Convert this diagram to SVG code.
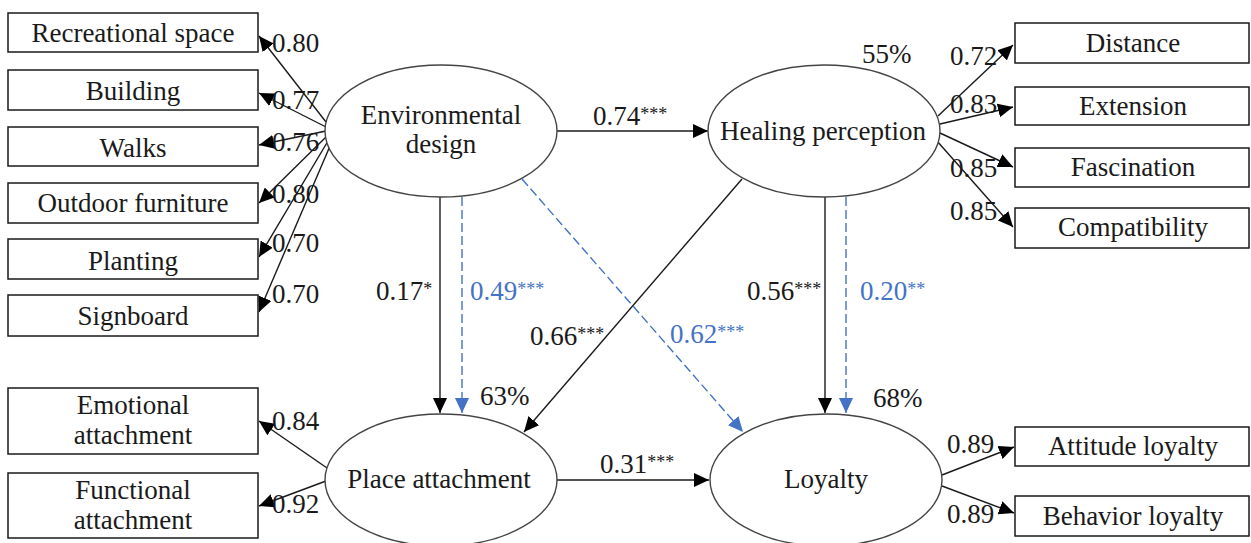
<svg xmlns="http://www.w3.org/2000/svg" width="1251" height="543" viewBox="0 0 1251 543">
<style>
text{font-family:"Liberation Serif","Times New Roman",serif;font-size:27px;fill:#1a1a1a}
.c{text-anchor:middle}
.blue{fill:#4472C4}
.sup{font-size:18px}
.box{fill:#fff;stroke:#1a1a1a;stroke-width:1.5}
ellipse{fill:#fff;stroke:#444;stroke-width:1.4}
.ln{stroke:#1a1a1a;stroke-width:1.4;fill:none;marker-end:url(#ah)}
.dl{stroke:#4472C4;stroke-width:1.4;fill:none;stroke-dasharray:9 4;marker-end:url(#ahb)}
</style>
<defs>
<marker id="ah" markerUnits="userSpaceOnUse" markerWidth="15" markerHeight="14" refX="15" refY="7" orient="auto"><path d="M0,0 L15,7 L0,14 z" fill="#000"/></marker>
<marker id="ahb" markerUnits="userSpaceOnUse" markerWidth="15" markerHeight="14" refX="15" refY="7" orient="auto"><path d="M0,0 L15,7 L0,14 z" fill="#4472C4"/></marker>
</defs>
<rect x="0" y="0" width="1251" height="543" fill="#fff"/>

<g id="connectors">
<line class="ln" x1="326" y1="122" x2="259" y2="36"/>
<line class="ln" x1="326" y1="127" x2="259" y2="93"/>
<line class="ln" x1="326" y1="131" x2="259" y2="145"/>
<line class="ln" x1="327" y1="136" x2="259" y2="203"/>
<line class="ln" x1="328" y1="141" x2="259" y2="257"/>
<line class="ln" x1="330" y1="146" x2="259" y2="312"/>
<line class="ln" x1="327" y1="468" x2="259" y2="421"/>
<line class="ln" x1="326" y1="481" x2="259" y2="506"/>
<line class="ln" x1="938" y1="116" x2="1013" y2="45"/>
<line class="ln" x1="940" y1="124" x2="1013" y2="107"/>
<line class="ln" x1="940" y1="133" x2="1013" y2="167"/>
<line class="ln" x1="937" y1="141" x2="1013" y2="227"/>
<line class="ln" x1="942" y1="475" x2="1014" y2="447"/>
<line class="ln" x1="942" y1="486" x2="1014" y2="513"/>
<line class="ln" x1="557" y1="131" x2="708" y2="131"/>
<line class="ln" x1="557" y1="480" x2="709" y2="480"/>
<line class="ln" x1="440" y1="197" x2="440" y2="413"/>
<line class="dl" x1="462" y1="197" x2="462" y2="413"/>
<line class="ln" x1="825" y1="197" x2="825" y2="413"/>
<line class="dl" x1="846" y1="197" x2="846" y2="413"/>
<line class="ln" x1="742" y1="179" x2="524" y2="432"/>
<line class="dl" x1="522" y1="179" x2="743" y2="432"/>
</g>

<g id="labels">
<text x="272" y="52">0.80</text>
<text x="272" y="109">0.77</text>
<text x="272" y="151">0.76</text>
<text x="272" y="203">0.80</text>
<text x="272" y="252">0.70</text>
<text x="272" y="303">0.70</text>
<text x="272" y="430">0.84</text>
<text x="272" y="513">0.92</text>
<text x="950" y="65">0.72</text>
<text x="950" y="113">0.83</text>
<text x="950" y="177">0.85</text>
<text x="950" y="220">0.85</text>
<text x="947" y="453">0.89</text>
<text x="947" y="523">0.89</text>
<text x="593" y="125">0.74<tspan class="sup" dy="-5">***</tspan></text>
<text x="600" y="473">0.31<tspan class="sup" dy="-5">***</tspan></text>
<text x="376" y="300">0.17<tspan class="sup" dy="-5">*</tspan></text>
<text class="blue" x="470" y="300">0.49<tspan class="sup blue" dy="-5">***</tspan></text>
<text x="747" y="300">0.56<tspan class="sup" dy="-5">***</tspan></text>
<text class="blue" x="860" y="300">0.20<tspan class="sup blue" dy="-5">**</tspan></text>
<text x="530" y="345">0.66<tspan class="sup" dy="-5">***</tspan></text>
<text class="blue" x="670" y="343">0.62<tspan class="sup blue" dy="-5">***</tspan></text>
<text x="862" y="63">55%</text>
<text x="480" y="405">63%</text>
<text x="873" y="407">68%</text>
</g>

<g id="recreational-space"><rect class="box" x="8" y="13" width="250" height="39"/><text class="c" x="133" y="42">Recreational space</text></g>
<g id="building"><rect class="box" x="8" y="70" width="250" height="40"/><text class="c" x="133" y="100">Building</text></g>
<g id="walks"><rect class="box" x="8" y="127" width="250" height="39"/><text class="c" x="133" y="157">Walks</text></g>
<g id="outdoor-furniture"><rect class="box" x="8" y="183" width="250" height="40"/><text class="c" x="133" y="212">Outdoor furniture</text></g>
<g id="planting"><rect class="box" x="8" y="239" width="250" height="40"/><text class="c" x="133" y="270">Planting</text></g>
<g id="signboard"><rect class="box" x="8" y="295" width="250" height="41"/><text class="c" x="133" y="325">Signboard</text></g>
<g id="emotional-attachment"><rect class="box" x="8" y="388" width="250" height="66"/><text class="c" x="133" y="414">Emotional</text><text class="c" x="133" y="444">attachment</text></g>
<g id="functional-attachment"><rect class="box" x="8" y="473" width="250" height="65"/><text class="c" x="133" y="499">Functional</text><text class="c" x="133" y="529">attachment</text></g>

<g id="distance"><rect class="box" x="1015" y="23" width="234" height="40"/><text class="c" x="1133" y="52">Distance</text></g>
<g id="extension"><rect class="box" x="1015" y="87" width="234" height="38"/><text class="c" x="1133" y="115">Extension</text></g>
<g id="fascination"><rect class="box" x="1015" y="148" width="234" height="39"/><text class="c" x="1133" y="176">Fascination</text></g>
<g id="compatibility"><rect class="box" x="1015" y="208" width="234" height="40"/><text class="c" x="1133" y="236">Compatibility</text></g>
<g id="attitude-loyalty"><rect class="box" x="1015" y="427" width="234" height="39"/><text class="c" x="1133" y="455">Attitude loyalty</text></g>
<g id="behavior-loyalty"><rect class="box" x="1015" y="496" width="234" height="40"/><text class="c" x="1133" y="525">Behavior loyalty</text></g>

<g id="environmental-design"><ellipse cx="441" cy="131" rx="116" ry="66"/><text class="c" x="441" y="124">Environmental</text><text class="c" x="441" y="153">design</text></g>
<g id="healing-perception"><ellipse cx="824" cy="131" rx="116" ry="66"/><text class="c" x="823" y="140">Healing perception</text></g>
<g id="place-attachment"><ellipse cx="441" cy="480" rx="116" ry="66"/><text class="c" x="439" y="488">Place attachment</text></g>
<g id="loyalty"><ellipse cx="826" cy="480" rx="116" ry="66"/><text class="c" x="826" y="488">Loyalty</text></g>
</svg>
